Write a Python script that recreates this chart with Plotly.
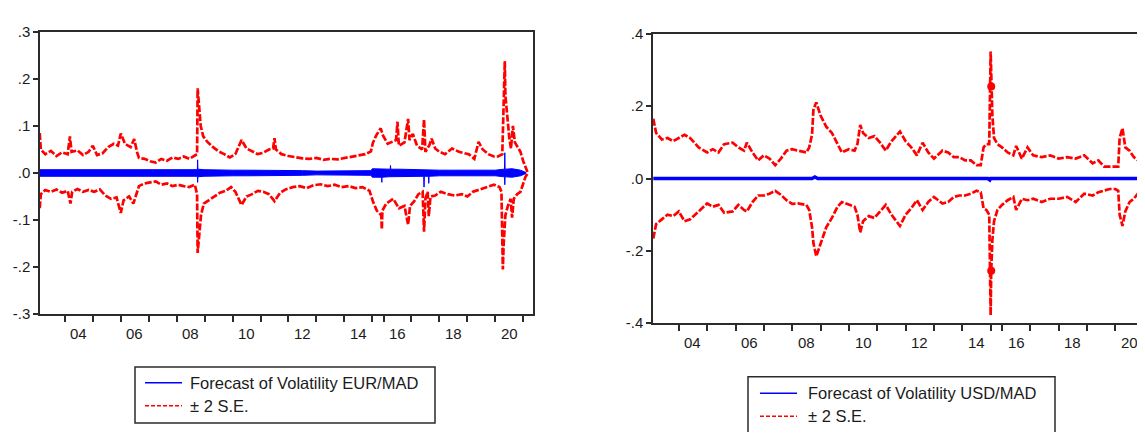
import plotly.graph_objects as go

# The page body keeps its default 8px margin, so the figure is sized to fit the
# 1145x440 window exactly; every position below is given in window pixels.
PAGE_W, PAGE_H, OFF = 1145, 440, 8
W, H = PAGE_W - 2 * OFF, PAGE_H - 2 * OFF
GAP = 0.40  # share of a full year taken on the axis by the short 2015 sample

# ---------------- data (decimal year, value) ----------------
eur_up_t = [2003.10, 2003.14, 2003.30, 2003.50, 2003.70, 2003.90, 2004.10, 2004.18, 2004.24, 2004.45,
            2004.65, 2004.85, 2005.00, 2005.15, 2005.35, 2005.55, 2005.75, 2005.90, 2006.00, 2006.15,
            2006.35, 2006.48, 2006.58, 2006.65, 2006.85, 2007.05, 2007.25, 2007.45, 2007.65, 2007.85,
            2008.05, 2008.25, 2008.45, 2008.65, 2008.73, 2008.75, 2008.80, 2008.86, 2008.95, 2009.10,
            2009.30, 2009.50, 2009.70, 2009.90, 2010.10, 2010.25, 2010.32, 2010.50, 2010.70, 2010.90,
            2011.10, 2011.30, 2011.45, 2011.50, 2011.55, 2011.75, 2012.00, 2012.25, 2012.50, 2012.75,
            2013.00, 2013.25, 2013.50, 2013.75, 2014.00, 2014.25, 2014.50, 2014.75, 2014.95, 2015.05,
            2015.35, 2015.75, 2015.95, 2016.15, 2016.45, 2016.50, 2016.55, 2016.75, 2016.88, 2016.93,
            2017.05, 2017.20, 2017.38, 2017.45, 2017.50, 2017.65, 2017.72, 2017.85, 2018.00, 2018.20,
            2018.45, 2018.70, 2018.90, 2019.05, 2019.25, 2019.40, 2019.55, 2019.75, 2019.95, 2020.10,
            2020.25, 2020.30, 2020.34, 2020.36, 2020.42, 2020.50, 2020.56, 2020.63, 2020.70, 2020.80,
            2020.90, 2021.00, 2021.08, 2021.15]
eur_up = [0.085, 0.050, 0.040, 0.047, 0.036, 0.044, 0.040, 0.078, 0.045, 0.048,
          0.038, 0.045, 0.058, 0.038, 0.042, 0.055, 0.062, 0.058, 0.084, 0.062,
          0.055, 0.072, 0.045, 0.032, 0.030, 0.025, 0.022, 0.030, 0.026, 0.033,
          0.030, 0.035, 0.030, 0.036, 0.040, 0.180, 0.140, 0.100, 0.078, 0.066,
          0.055, 0.046, 0.040, 0.033, 0.040, 0.062, 0.070, 0.052, 0.046, 0.040,
          0.043, 0.050, 0.052, 0.074, 0.050, 0.040, 0.036, 0.033, 0.031, 0.030,
          0.032, 0.028, 0.030, 0.029, 0.032, 0.034, 0.038, 0.040, 0.046, 0.064,
          0.080, 0.095, 0.080, 0.062, 0.070, 0.109, 0.058, 0.065, 0.115, 0.070,
          0.083, 0.058, 0.050, 0.114, 0.045, 0.060, 0.073, 0.052, 0.045, 0.040,
          0.052, 0.045, 0.042, 0.040, 0.030, 0.066, 0.050, 0.040, 0.035, 0.035,
          0.040, 0.125, 0.238, 0.165, 0.120, 0.075, 0.052, 0.100, 0.065, 0.055,
          0.045, 0.025, 0.010, 0.002]

eur_lo_t = [2003.10, 2003.14, 2003.30, 2003.50, 2003.70, 2003.90, 2004.10, 2004.20, 2004.26, 2004.45,
            2004.65, 2004.85, 2005.05, 2005.25, 2005.45, 2005.65, 2005.85, 2006.00, 2006.10, 2006.30,
            2006.45, 2006.58, 2006.65, 2006.85, 2007.05, 2007.25, 2007.45, 2007.65, 2007.85, 2008.05,
            2008.25, 2008.45, 2008.65, 2008.73, 2008.75, 2008.80, 2008.87, 2008.97, 2009.15, 2009.35,
            2009.55, 2009.75, 2009.95, 2010.10, 2010.25, 2010.32, 2010.50, 2010.70, 2010.90, 2011.10,
            2011.30, 2011.50, 2011.70, 2011.90, 2012.15, 2012.40, 2012.65, 2012.90, 2013.15, 2013.40,
            2013.65, 2013.90, 2014.15, 2014.40, 2014.65, 2014.90, 2015.05, 2015.40, 2015.80, 2015.85,
            2015.90, 2016.10, 2016.35, 2016.55, 2016.75, 2016.88, 2016.95, 2017.10, 2017.25, 2017.40,
            2017.45, 2017.50, 2017.58, 2017.62, 2017.68, 2017.85, 2018.05, 2018.30, 2018.55, 2018.80,
            2019.00, 2019.20, 2019.45, 2019.70, 2019.95, 2020.15, 2020.22, 2020.27, 2020.30, 2020.36,
            2020.45, 2020.55, 2020.60, 2020.66, 2020.78, 2020.90, 2021.00, 2021.08, 2021.15]
eur_lo = [-0.075, -0.045, -0.036, -0.040, -0.035, -0.042, -0.038, -0.065, -0.040, -0.034,
          -0.040, -0.036, -0.040, -0.035, -0.048, -0.055, -0.052, -0.085, -0.058, -0.050,
          -0.065, -0.042, -0.028, -0.022, -0.020, -0.018, -0.025, -0.022, -0.028, -0.025,
          -0.028, -0.030, -0.025, -0.045, -0.170, -0.130, -0.090, -0.065, -0.058, -0.050,
          -0.042, -0.038, -0.030, -0.040, -0.060, -0.068, -0.050, -0.045, -0.038, -0.040,
          -0.045, -0.060, -0.042, -0.035, -0.030, -0.028, -0.032, -0.026, -0.024, -0.028,
          -0.025, -0.030, -0.028, -0.032, -0.030, -0.038, -0.060, -0.080, -0.090, -0.120,
          -0.080, -0.065, -0.055, -0.075, -0.070, -0.110, -0.070, -0.060, -0.045, -0.040,
          -0.125, -0.055, -0.040, -0.092, -0.050, -0.048, -0.040, -0.045, -0.048, -0.045,
          -0.050, -0.040, -0.035, -0.030, -0.025, -0.030, -0.040, -0.205, -0.150, -0.090,
          -0.070, -0.055, -0.095, -0.055, -0.045, -0.040, -0.020, -0.008, -0.002]

# forecast of volatility EUR/MAD: visible upper / lower extent of the blue trace
eur_f_t = [2003.10, 2003.50, 2004.00, 2004.50, 2005.00, 2005.50, 2006.00, 2006.50, 2007.00, 2007.50,
           2008.00, 2008.50, 2008.74, 2008.75, 2008.76, 2009.00, 2009.50, 2010.00, 2010.50, 2011.00,
           2011.50, 2012.00, 2012.50, 2013.00, 2013.50, 2014.00, 2014.50, 2014.95, 2015.00, 2015.30,
           2015.84, 2015.85, 2015.86, 2016.20, 2016.24, 2016.25, 2016.26, 2016.60, 2017.00, 2017.44,
           2017.45, 2017.46, 2017.61, 2017.62, 2017.63, 2018.00, 2018.50, 2019.00, 2019.50, 2020.00,
           2020.30, 2020.33, 2020.34, 2020.35, 2020.60, 2020.90, 2021.10]
eur_f_hi = [0.007, 0.007, 0.006, 0.007, 0.006, 0.007, 0.007, 0.007, 0.006, 0.006,
            0.006, 0.006, 0.007, 0.028, 0.008, 0.007, 0.006, 0.006, 0.006, 0.006,
            0.006, 0.005, 0.005, 0.004, 0.004, 0.004, 0.004, 0.005, 0.009, 0.009,
            0.009, 0.009, 0.009, 0.008, 0.008, 0.016, 0.008, 0.008, 0.007, 0.007,
            0.007, 0.007, 0.007, 0.007, 0.007, 0.006, 0.006, 0.006, 0.006, 0.006,
            0.008, 0.008, 0.043, 0.008, 0.009, 0.006, 0.001]
eur_f_lo = [-0.007, -0.007, -0.006, -0.007, -0.006, -0.007, -0.007, -0.007, -0.006, -0.006,
            -0.006, -0.006, -0.007, -0.020, -0.008, -0.007, -0.006, -0.006, -0.006, -0.006,
            -0.006, -0.005, -0.005, -0.004, -0.004, -0.004, -0.004, -0.005, -0.009, -0.009,
            -0.009, -0.020, -0.009, -0.008, -0.008, -0.008, -0.008, -0.008, -0.007, -0.007,
            -0.030, -0.007, -0.007, -0.022, -0.007, -0.006, -0.006, -0.006, -0.006, -0.006,
            -0.008, -0.008, -0.025, -0.008, -0.009, -0.006, -0.001]

usd_t = [2003.10, 2003.20, 2003.40, 2003.60, 2003.80, 2004.00, 2004.20, 2004.40, 2004.70, 2005.00,
         2005.20, 2005.40, 2005.60, 2005.90, 2006.10, 2006.30, 2006.40, 2006.60, 2006.80, 2007.00,
         2007.20, 2007.40, 2007.60, 2007.80, 2008.00, 2008.20, 2008.50, 2008.60, 2008.70, 2008.75,
         2008.85, 2009.00, 2009.20, 2009.40, 2009.60, 2009.75, 2010.00, 2010.20, 2010.30, 2010.40,
         2010.50, 2010.70, 2010.90, 2011.10, 2011.30, 2011.50, 2011.80, 2012.00, 2012.20, 2012.40,
         2012.60, 2012.80, 2013.00, 2013.30, 2013.50, 2013.70, 2013.90, 2014.10, 2014.30, 2014.50,
         2014.65, 2014.75, 2014.85, 2014.95, 2015.00, 2015.05, 2015.15, 2015.30, 2015.60, 2016.00,
         2016.20, 2016.40, 2016.50, 2016.70, 2016.90, 2017.10, 2017.40, 2017.70, 2018.00, 2018.30,
         2018.60, 2018.90, 2019.20, 2019.40, 2019.60, 2019.80, 2020.00, 2020.10, 2020.15, 2020.25,
         2020.35, 2020.50, 2020.65, 2020.80, 2020.95, 2021.05]
usd_up = [0.165, 0.126, 0.108, 0.112, 0.103, 0.112, 0.121, 0.112, 0.086, 0.072,
          0.081, 0.072, 0.095, 0.099, 0.086, 0.077, 0.099, 0.072, 0.050, 0.064,
          0.055, 0.037, 0.055, 0.077, 0.081, 0.077, 0.072, 0.086, 0.121, 0.192,
          0.210, 0.174, 0.143, 0.126, 0.095, 0.072, 0.081, 0.077, 0.095, 0.148,
          0.126, 0.112, 0.117, 0.099, 0.077, 0.103, 0.130, 0.103, 0.086, 0.064,
          0.099, 0.072, 0.055, 0.077, 0.072, 0.059, 0.059, 0.050, 0.050, 0.037,
          0.037, 0.086, 0.095, 0.095, 0.351, 0.254, 0.174, 0.112, 0.095, 0.086,
          0.072, 0.064, 0.090, 0.055, 0.086, 0.064, 0.059, 0.064, 0.055, 0.059,
          0.055, 0.064, 0.042, 0.050, 0.033, 0.033, 0.033, 0.033, 0.112, 0.139,
          0.086, 0.077, 0.059, 0.050, 0.035, 0.020]
usd_lo = [-0.166, -0.126, -0.113, -0.100, -0.104, -0.091, -0.118, -0.113, -0.091, -0.069,
          -0.078, -0.073, -0.095, -0.091, -0.073, -0.087, -0.091, -0.065, -0.047, -0.047,
          -0.042, -0.034, -0.045, -0.060, -0.070, -0.069, -0.073, -0.087, -0.135, -0.179,
          -0.215, -0.179, -0.135, -0.109, -0.078, -0.065, -0.073, -0.078, -0.100, -0.149,
          -0.118, -0.104, -0.109, -0.091, -0.073, -0.100, -0.131, -0.100, -0.082, -0.060,
          -0.087, -0.065, -0.051, -0.069, -0.065, -0.051, -0.047, -0.047, -0.042, -0.034,
          -0.038, -0.082, -0.087, -0.100, -0.378, -0.255, -0.171, -0.118, -0.087, -0.073,
          -0.060, -0.051, -0.087, -0.056, -0.060, -0.056, -0.065, -0.056, -0.056, -0.051,
          -0.065, -0.042, -0.047, -0.038, -0.034, -0.029, -0.029, -0.034, -0.100, -0.131,
          -0.091, -0.065, -0.056, -0.042, -0.025, -0.015]
usd_dot_index = 65  # isolated observation drawn with a dot (2015)

usd_f_t = [2003.10, 2008.70, 2008.80, 2008.90, 2014.90, 2014.97, 2015.00, 2015.05, 2021.05]
usd_f = [0.000, 0.000, 0.004, 0.000, 0.000, -0.004, 0.000, 0.000, 0.000]

tick_years = list(range(2004, 2022))
label_years = [2004, 2006, 2008, 2010, 2012, 2014, 2016, 2018, 2020]
label_text = ["04", "06", "08", "10", "12", "14", "16", "18", "20"]
left_yvals = [0.3, 0.2, 0.1, 0.0, -0.1, -0.2, -0.3]
left_ytext = [".3", ".2", ".1", ".0", "-.1", "-.2", "-.3"]
right_yvals = [0.4, 0.2, 0.0, -0.2, -0.4]
right_ytext = [".4", ".2", ".0", "-.2", "-.4"]
legend_left = ["Forecast of Volatility EUR/MAD", "\u00b1 2 S.E."]
legend_right = ["Forecast of Volatility USD/MAD", "\u00b1 2 S.E."]


# ---------------- helpers ----------------
def obs(t):
    """Observation-axis position: the sample holds only part of 2015."""
    if t <= 2015:
        return t
    if t <= 2016:
        return 2015 + GAP * (t - 2015)
    return t - (1 - GAP)


def obs_list(ts):
    return [obs(t) for t in ts]


def fx(px):  # window pixel -> paper fraction
    return (px - OFF) / W


def fy(py):
    return 1 - (py - OFF) / H


FONT = "Liberation Sans, Arial, sans-serif"
TXT = "#1b1b1b"
FRAME = "#2b2b2b"
RED = "#ff0000"
BLUE = "#0000ff"
RED_DASH = "7px,2px"
RED_W = 2.7

# panel boxes in window pixels: (left, right, top, bottom)
LP = (40, 533, 23.5, 317.5)
RP = (653, PAGE_W - OFF, 25.5, 327)
L_PX_PER_YEAR = 27.95
R_PX_PER_YEAR = 28.35
L_START, R_START = 2003.11, 2003.09
L_END = L_START + (LP[1] - LP[0]) / L_PX_PER_YEAR
R_END = R_START + (RP[1] - RP[0]) / R_PX_PER_YEAR

fig = go.Figure()

# ---- left panel ----
for tt, vv in ((eur_up_t, eur_up), (eur_lo_t, eur_lo)):
    fig.add_trace(go.Scatter(x=obs_list(tt), y=vv, mode="lines",
                             line=dict(color=RED, width=RED_W, dash=RED_DASH),
                             xaxis="x", yaxis="y", showlegend=False, hoverinfo="skip"))
fig.add_trace(go.Scatter(x=obs_list(eur_f_t), y=eur_f_lo, mode="lines",
                         line=dict(color=BLUE, width=1),
                         xaxis="x", yaxis="y", showlegend=False, hoverinfo="skip"))
fig.add_trace(go.Scatter(x=obs_list(eur_f_t), y=eur_f_hi, mode="lines",
                         line=dict(color=BLUE, width=1), fill="tonexty", fillcolor=BLUE,
                         xaxis="x", yaxis="y", showlegend=False, hoverinfo="skip"))

# ---- right panel ----
for vv in (usd_up, usd_lo):
    fig.add_trace(go.Scatter(x=obs_list(usd_t), y=vv, mode="lines",
                             line=dict(color=RED, width=RED_W, dash=RED_DASH),
                             xaxis="x2", yaxis="y2", showlegend=False, hoverinfo="skip"))
fig.add_trace(go.Scatter(x=[obs(usd_t[usd_dot_index])] * 2,
                         y=[usd_up[usd_dot_index], usd_lo[usd_dot_index]],
                         mode="markers", marker=dict(color=RED, size=8),
                         xaxis="x2", yaxis="y2", showlegend=False, hoverinfo="skip"))
fig.add_trace(go.Scatter(x=obs_list(usd_f_t), y=usd_f, mode="lines",
                         line=dict(color=BLUE, width=3.5),
                         xaxis="x2", yaxis="y2", showlegend=False, hoverinfo="skip"))

common_x = dict(showgrid=False, zeroline=False, showline=True, mirror=True,
                linecolor=FRAME, linewidth=1.5, ticks="outside", ticklen=6,
                tickwidth=1.5, tickcolor=FRAME, showticklabels=False,
                tickmode="array", tickvals=[obs(y) for y in tick_years], fixedrange=True)
common_y = dict(showgrid=False, zeroline=False, showline=True,
                linecolor=FRAME, linewidth=1.5, ticks="outside", ticklen=5,
                tickwidth=1.5, tickcolor=FRAME, tickmode="array",
                tickfont=dict(family=FONT, size=15, color=TXT), fixedrange=True)

fig.update_layout(
    width=W, height=H,
    margin=dict(l=0, r=0, t=0, b=0),
    paper_bgcolor="white", plot_bgcolor="white",
    showlegend=False,
    xaxis=dict(common_x, domain=[fx(LP[0]), fx(LP[1])], range=[L_START, L_END], anchor="y"),
    yaxis=dict(common_y, domain=[fy(LP[3]), fy(LP[2])], range=[-0.3, 0.3], anchor="x",
               mirror=True, tickvals=left_yvals, ticktext=left_ytext),
    xaxis2=dict(common_x, domain=[fx(RP[0]), 1.0], range=[R_START, R_END], anchor="y2"),
    yaxis2=dict(common_y, domain=[fy(RP[3]), fy(RP[2])], range=[-0.4, 0.4], anchor="x2",
                mirror=False, tickvals=right_yvals, ticktext=right_ytext),
)

annotations = []
# x tick labels centred on each labelled year
for yr, txt in zip(label_years, label_text):
    mid = (obs(yr) + obs(yr + 1)) / 2
    for xref, bottom in (("x", LP[3]), ("x2", RP[3])):
        annotations.append(dict(x=mid, xref=xref, y=fy(bottom + 20), yref="paper",
                                text=txt, showarrow=False, xanchor="center", yanchor="middle",
                                font=dict(family=FONT, size=15, color=TXT)))

shapes = []


def add_legend(box, line_x, rows_y, text_x, labels):
    x0, x1, y0, y1 = box
    shapes.append(dict(type="rect", xref="paper", yref="paper",
                       x0=fx(x0), x1=fx(x1), y0=fy(y1), y1=fy(y0),
                       line=dict(color=FRAME, width=1.5), fillcolor="white", layer="above"))
    styles = [dict(color=BLUE, width=1.5), dict(color=RED, width=1.5, dash="4px,2px")]
    for ry, st, lab in zip(rows_y, styles, labels):
        shapes.append(dict(type="line", xref="paper", yref="paper",
                           x0=fx(line_x[0]), x1=fx(line_x[1]), y0=fy(ry), y1=fy(ry),
                           line=st, layer="above"))
        annotations.append(dict(x=fx(text_x), y=fy(ry), xref="paper", yref="paper",
                                text=lab, showarrow=False, xanchor="left", yanchor="middle",
                                font=dict(family=FONT, size=16.5, color=TXT)))


add_legend((135, 435, 372.7, 431), (145, 182), (389, 413), 188, legend_left)
add_legend((748, 1055, 382.7, 445), (760, 797), (400, 424), 806, legend_right)

fig.update_layout(annotations=annotations, shapes=shapes)
fig.write_html("out.html", config={"displayModeBar": False})
